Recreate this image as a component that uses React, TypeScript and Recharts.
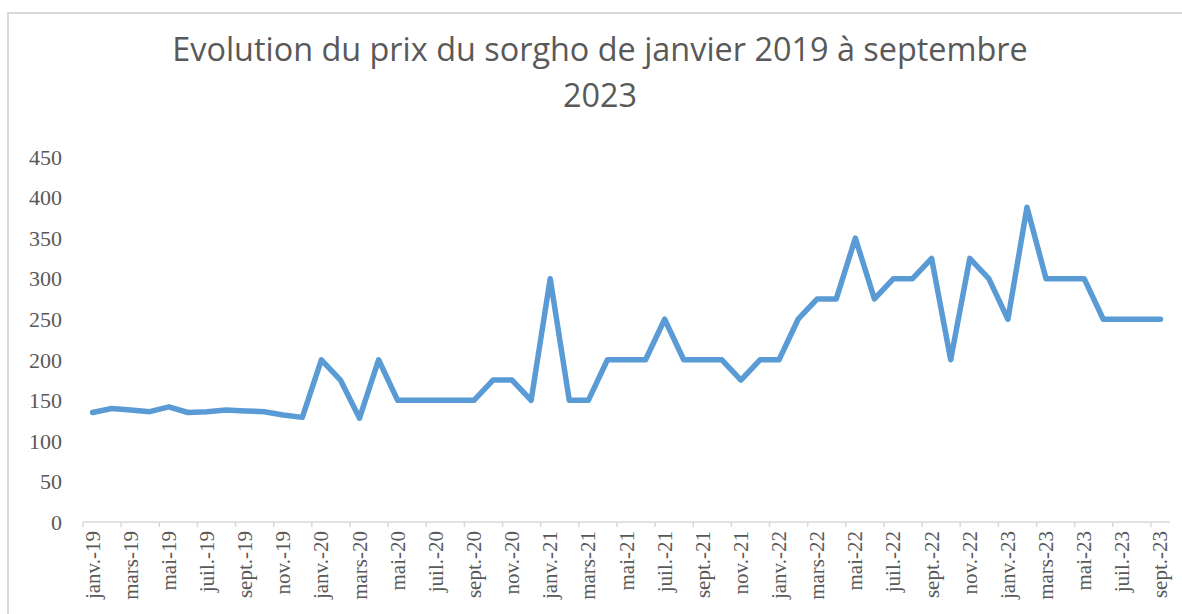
import React from "react";
import { LineChart, Line, XAxis, YAxis } from "recharts";

const months = [
  "janv.-19", "févr.-19", "mars-19", "avr.-19", "mai-19", "juin-19", "juil.-19", "août-19", "sept.-19", "oct.-19", "nov.-19", "déc.-19",
  "janv.-20", "févr.-20", "mars-20", "avr.-20", "mai-20", "juin-20", "juil.-20", "août-20", "sept.-20", "oct.-20", "nov.-20", "déc.-20",
  "janv.-21", "févr.-21", "mars-21", "avr.-21", "mai-21", "juin-21", "juil.-21", "août-21", "sept.-21", "oct.-21", "nov.-21", "déc.-21",
  "janv.-22", "févr.-22", "mars-22", "avr.-22", "mai-22", "juin-22", "juil.-22", "août-22", "sept.-22", "oct.-22", "nov.-22", "déc.-22",
  "janv.-23", "févr.-23", "mars-23", "avr.-23", "mai-23", "juin-23", "juil.-23", "août-23", "sept.-23",
];

const prices = [
  135, 140, 138, 136, 142, 135, 136, 138, 137, 136, 132, 129,
  200, 175, 128, 200, 150, 150, 150, 150, 150, 175, 175, 150,
  300, 150, 150, 200, 200, 200, 250, 200, 200, 200, 175, 200,
  200, 250, 275, 275, 350, 275, 300, 300, 325, 200, 325, 300,
  250, 388, 300, 300, 300, 250, 250, 250, 250,
];

const yTicks = [0, 50, 100, 150, 200, 250, 300, 350, 400, 450];

const data = months.map((m, i) => ({ name: m, prix: prices[i] }));

const textColor = "#595959";
const axisColor = "#d9d9d9";

const XTick = (props: any) => {
  const { x, y, payload } = props;
  const half = payload && payload.offset ? payload.offset : 9.5;
  return (
    <g>
      <line x1={x - half} x2={x - half} y1={y} y2={y + 5} stroke={axisColor} strokeWidth={1.5} />
      <text
        x={x}
        y={y + 9}
        transform={`rotate(-90, ${x}, ${y + 9})`}
        textAnchor="end"
        dominantBaseline="central"
        fill={textColor}
        fontFamily="'Liberation Serif', serif"
        fontSize={21}
      >
        {payload.value}
      </text>
    </g>
  );
};

export default function App() {
  return (
    <div style={{ position: "absolute", left: 0, top: 0, width: 1182, height: 614, background: "#fff", overflow: "hidden" }}>
      <div
        style={{
          position: "absolute",
          left: 7,
          top: 12,
          width: 1300,
          height: 800,
          border: `2px solid ${axisColor}`,
          boxSizing: "border-box",
        }}
      />
      <div
        style={{
          position: "absolute",
          left: 0,
          top: 25,
          width: 1200,
          textAlign: "center",
          fontFamily: "'Open Sans', sans-serif",
          fontSize: 32.4,
          lineHeight: "46px",
          color: textColor,
        }}
      >
        Evolution du prix du sorgho de janvier 2019 à septembre
        <br />
        2023
      </div>
      <div style={{ position: "absolute", left: 0, top: 0 }}>
        <LineChart width={1182} height={614} data={data} margin={{ top: 157, right: 12, bottom: 0, left: 0 }}>
          <XAxis
            dataKey="name"
            scale="band"
            interval={1}
            height={92}
            tickSize={0}
            tickMargin={0}
            tickLine={false}
            axisLine={{ stroke: axisColor, strokeWidth: 1.5 }}
            tick={<XTick />}
          />
          <YAxis
            domain={[0, 450]}
            ticks={yTicks}
            width={83}
            axisLine={false}
            tickLine={false}
            tickMargin={15}
            tick={{ fill: textColor, fontFamily: "'Liberation Serif', serif", fontSize: 22 }}
          />
          <Line
            type="linear"
            dataKey="prix"
            stroke="#5b9bd5"
            strokeWidth={5.5}
            strokeLinejoin="round"
            strokeLinecap="round"
            dot={false}
            activeDot={false}
            isAnimationActive={false}
          />
        </LineChart>
      </div>
    </div>
  );
}
